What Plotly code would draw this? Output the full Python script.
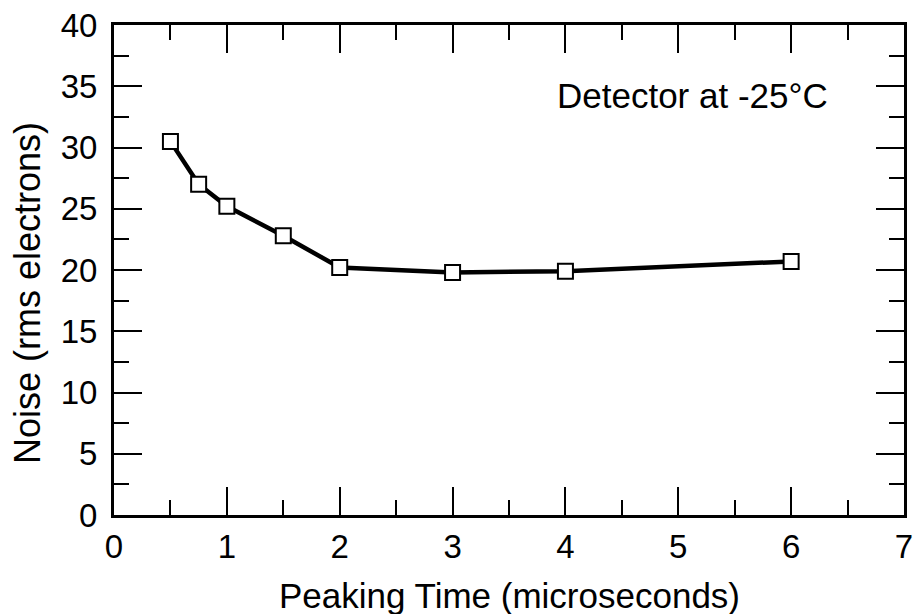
import plotly.graph_objects as go

peaking_time = [0.5, 0.75, 1.0, 1.5, 2.0, 3.0, 4.0, 6.0]
noise = [30.5, 27.0, 25.2, 22.8, 20.2, 19.8, 19.9, 20.7]

x_title = "Peaking Time (microseconds)"
y_title = "Noise (rms electrons)"
note = "Detector at -25°C"

FONT = "Liberation Sans, Arial, Helvetica, sans-serif"

fig = go.Figure()
fig.add_trace(go.Scatter(
    x=peaking_time, y=noise, mode="lines+markers",
    line=dict(color="black", width=4.5),
    marker=dict(symbol="square", size=15, color="white",
                line=dict(color="black", width=2)),
    showlegend=False, cliponaxis=False,
))

axis_common = dict(
    showgrid=False, zeroline=False, showline=True, linecolor="black",
    linewidth=3, mirror="ticks", ticks="inside", tickcolor="black",
    tickwidth=2, ticklen=28,
    tickfont=dict(family=FONT, size=33, color="black"),
)

fig.update_xaxes(range=[0, 7], dtick=1, tick0=0, ticklabelstandoff=0,
                 minor=dict(dtick=0.5, ticks="inside", ticklen=15,
                            tickwidth=2, tickcolor="black"),
                 **axis_common)
fig.update_yaxes(range=[0, 40], dtick=5, tick0=0, ticklabelstandoff=7,
                 minor=dict(dtick=2.5, ticks="inside", ticklen=15,
                            tickwidth=2, tickcolor="black"),
                 **axis_common)

fig.add_annotation(text=x_title, xref="paper", yref="paper", x=0.5, y=0,
                   yshift=-80, showarrow=False, xanchor="center", yanchor="middle",
                   font=dict(family=FONT, size=35, color="black"))
fig.add_annotation(text=y_title, xref="paper", yref="paper", x=0, y=0.5,
                   xshift=-87, yshift=-23, textangle=-90, showarrow=False,
                   xanchor="center", yanchor="middle",
                   font=dict(family=FONT, size=36, color="black"))
fig.add_annotation(text=note, xref="paper", yref="paper", x=0.906, y=1,
                   yshift=-70, showarrow=False, xanchor="right", yanchor="middle",
                   font=dict(family=FONT, size=35, color="black"))

fig.update_layout(
    width=920, height=614,
    margin=dict(l=114, r=7, t=25, b=99),
    paper_bgcolor="white", plot_bgcolor="white",
    font=dict(family=FONT, color="black"),
)

fig.write_html("out.html")
